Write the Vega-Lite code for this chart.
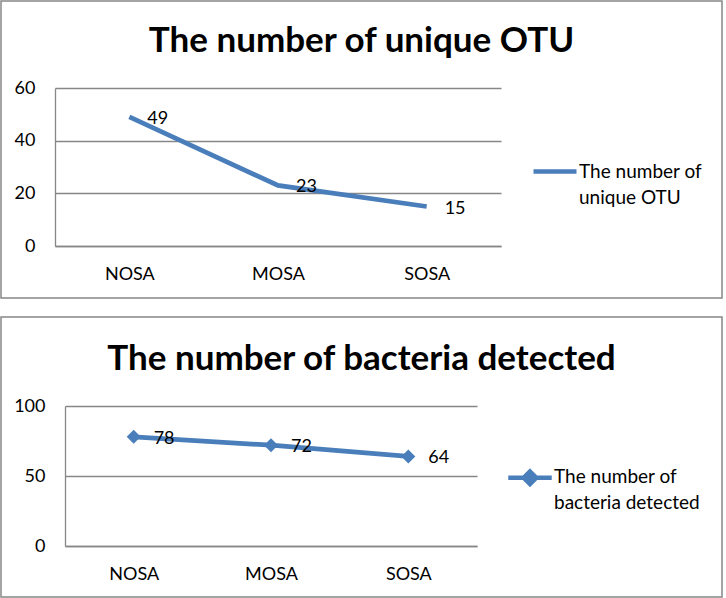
{
  "$schema": "https://vega.github.io/schema/vega-lite/v6.json",
  "padding": {"left": 0, "top": 0, "right": 0, "bottom": 0},
  "background": "white",
  "spacing": 17,
  "resolve": {"scale": {"color": "independent"}, "legend": {"color": "independent"}},
  "config": {
    "font": "Lato",
    "view": {"stroke": "#878787", "strokeWidth": 1.5}
  },
  "vconcat": [
    {
      "width": 721,
      "height": 297,
      "title": {"text": "The number of unique OTU", "font": "Lato", "fontSize": 35, "fontWeight": "bold", "color": "black", "anchor": "middle", "frame": "group", "baseline": "alphabetic", "offset": -86},
      "data": {"values": [
        {"group": "NOSA", "value": 49, "series": "The number of unique OTU"},
        {"group": "MOSA", "value": 23, "series": "The number of unique OTU"},
        {"group": "SOSA", "value": 15, "series": "The number of unique OTU"}
      ]},
      "encoding": {
        "x": {"field": "group", "type": "nominal", "sort": null,
          "scale": {"type": "point", "range": [54, 500], "padding": 0.5},
          "axis": {"orient": "bottom", "offset": -52, "title": null, "ticks": false, "domain": true, "domainColor": "#878787", "domainWidth": 1.3, "grid": false, "labelAngle": 0, "labelPadding": 19, "labelFont": "Lato", "labelFontSize": 18, "labelColor": "black"}},
        "y": {"field": "value", "type": "quantitative",
          "scale": {"domain": [0, 60], "range": [245, 87], "nice": false, "zero": true},
          "axis": {"orient": "left", "offset": -54, "values": [0, 20, 40, 60], "title": null, "ticks": false, "domain": true, "domainColor": "#878787", "domainWidth": 1.3, "grid": true, "gridColor": "#878787", "gridWidth": 1.3, "gridOpacity": 1, "labelPadding": 20, "labelFont": "Lato", "labelFontSize": 18, "labelColor": "black"}}
      },
      "layer": [
        {
          "mark": {"type": "line", "strokeWidth": 4.7},
          "encoding": {
            "color": {"field": "series", "type": "nominal",
              "scale": {"range": ["#4A7EBB"]},
              "legend": {"title": null, "orient": "none", "legendX": 530, "legendY": 138, "padding": 0,
                "symbolType": "M-1,0.39H1", "symbolSize": 1849, "symbolStrokeWidth": 4.5,
                "labelFont": "Lato", "labelFontSize": 19, "labelColor": "black", "labelBaseline": "top", "labelOffset": 0, "labelLimit": 300,
                "labelExpr": "split(replace(datum.label, 'of ', 'of|'), '|')",
                "encode": {
                  "symbols": {"update": {"stroke": {"value": "#4A7EBB"}, "strokeWidth": {"value": 4.5}}},
                  "labels": {"update": {"lineHeight": {"value": 26}}}
                }}}
          }
        },
        {
          "mark": {"type": "text", "align": "left", "baseline": "middle", "dx": 18, "dy": 2, "fontSize": 18, "font": "Lato", "color": "black"},
          "encoding": {"text": {"field": "value", "type": "quantitative"}}
        }
      ]
    },
    {
      "width": 721,
      "height": 280,
      "title": {"text": "The number of bacteria detected", "font": "Lato", "fontSize": 35, "fontWeight": "bold", "color": "black", "anchor": "middle", "frame": "group", "baseline": "alphabetic", "offset": -88},
      "data": {"values": [
        {"group": "NOSA", "value": 78, "series": "The number of bacteria detected"},
        {"group": "MOSA", "value": 72, "series": "The number of bacteria detected"},
        {"group": "SOSA", "value": 64, "series": "The number of bacteria detected"}
      ]},
      "encoding": {
        "x": {"field": "group", "type": "nominal", "sort": null,
          "scale": {"type": "point", "range": [64, 476], "padding": 0.5},
          "axis": {"orient": "bottom", "offset": -51, "title": null, "ticks": false, "domain": true, "domainColor": "#878787", "domainWidth": 1.3, "grid": false, "labelAngle": 0, "labelPadding": 19, "labelFont": "Lato", "labelFontSize": 18, "labelColor": "black"}},
        "y": {"field": "value", "type": "quantitative",
          "scale": {"domain": [0, 100], "range": [229, 89], "nice": false, "zero": true},
          "axis": {"orient": "left", "offset": -64, "values": [0, 50, 100], "title": null, "ticks": false, "domain": true, "domainColor": "#878787", "domainWidth": 1.3, "grid": true, "gridColor": "#878787", "gridWidth": 1.3, "gridOpacity": 1, "labelPadding": 20, "labelFont": "Lato", "labelFontSize": 18, "labelColor": "black"}}
      },
      "layer": [
        {
          "mark": {"type": "line", "strokeWidth": 4.7},
          "encoding": {
            "color": {"field": "series", "type": "nominal",
              "scale": {"range": ["#4A7EBB"]},
              "legend": {"title": null, "orient": "none", "legendX": 505, "legendY": 127, "padding": 0,
                "symbolType": "M-1,0.45H1M0,0.16L0.29,0.45L0,0.74L-0.29,0.45Z", "symbolSize": 1892, "symbolStrokeWidth": 4.5,
                "labelFont": "Lato", "labelFontSize": 19, "labelColor": "black", "labelBaseline": "top", "labelOffset": 0, "labelLimit": 300,
                "labelExpr": "split(replace(datum.label, 'of ', 'of|'), '|')",
                "encode": {
                  "symbols": {"update": {"stroke": {"value": "#4A7EBB"}, "fill": {"value": "#4A7EBB"}, "strokeWidth": {"value": 4.5}}},
                  "labels": {"update": {"lineHeight": {"value": 25.5}}}
                }}}
          }
        },
        {
          "mark": {"type": "point", "shape": "diamond", "filled": true, "size": 196, "opacity": 1, "color": "#4A7EBB"},
          "encoding": {}
        },
        {
          "mark": {"type": "text", "align": "left", "baseline": "middle", "dx": 20, "dy": 2, "fontSize": 18, "font": "Lato", "color": "black"},
          "encoding": {"text": {"field": "value", "type": "quantitative"}}
        }
      ]
    }
  ]
}
